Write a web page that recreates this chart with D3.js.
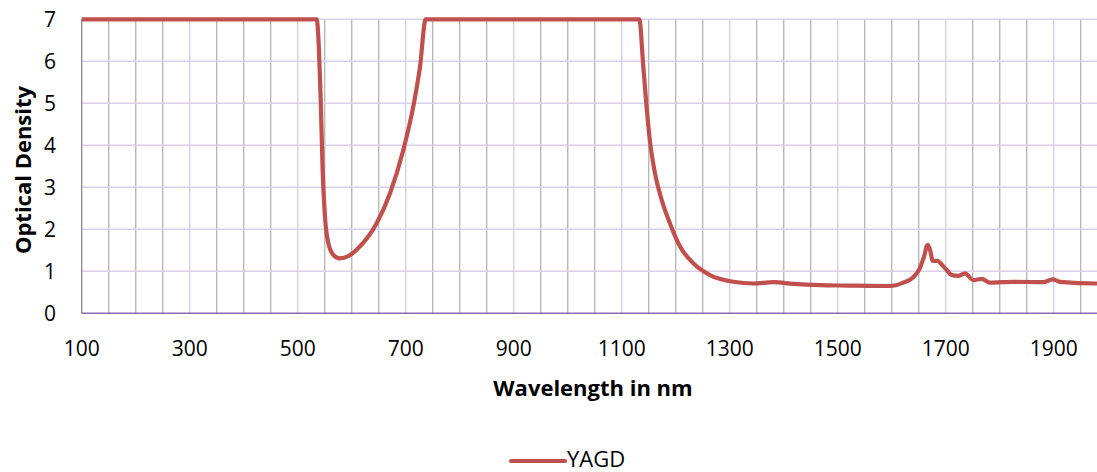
<!DOCTYPE html>
<html><head><meta charset="utf-8">
<script src="https://cdn.jsdelivr.net/npm/d3@7"></script>
<style>
html,body{margin:0;padding:0;background:#fff;overflow:hidden}
text{font-family:"Open Sans",sans-serif;fill:#000}
</style></head><body>
<svg id="c" width="1097" height="472"></svg>
<script>
const wavelengths = [100,535,542.6,546,550.5,556.7,566,578,593.7,615,646,671,695.6,714,726.5,737,
  1132.6,1140,1146,1152,1161.7,1174,1189.4,1208,1232.6,1263.5,1306.7,1343.7,1380.7,1417.8,1467,1519.6,
  1596.9,1621.5,1640,1652,1659.8,1666.6,1671,1676,1684.6,1690.7,1701.8,1711,1723,1735.7,1751,1766.7,1782,
  1825,1880.8,1898,1911.7,1979.6,2000];
const odValues = [7,7,5.08,3.49,2.3,1.67,1.39,1.31,1.36,1.59,2.14,2.86,3.89,4.92,5.87,7,
  7,5.87,4.92,4.13,3.33,2.70,2.14,1.59,1.19,0.91,0.75,0.71,0.74,0.70,0.67,0.66,
  0.65,0.73,0.86,1.07,1.35,1.63,1.51,1.25,1.25,1.19,1.03,0.91,0.89,0.95,0.79,0.82,0.73,
  0.75,0.74,0.81,0.75,0.71,0.71];
const xTickLabels = [100,300,500,700,900,1100,1300,1500,1700,1900];
const yTickLabels = [0,1,2,3,4,5,6,7];
const seriesName = "YAGD";

const svg = d3.select("#c");
const x = d3.scaleLinear().domain([100,2000]).range([81.7,81.7+1900*0.54]);
const y = d3.scaleLinear().domain([0,7]).range([313.3,19.3]);

// vertical gridlines every 50 nm
const vlines = d3.range(150,2001,50);
svg.append("g").selectAll("line").data(vlines).join("line")
  .attr("x1",d=>x(d)).attr("x2",d=>x(d)).attr("y1",y(7)).attr("y2",y(0))
  .attr("stroke",d=>((d-100)%200===0)?"#d9d0e6":"#b8b8b8").attr("stroke-width",1.4);
// horizontal gridlines
svg.append("g").selectAll("line").data(yTickLabels.filter(d=>d>0)).join("line")
  .attr("x1",x(100)).attr("x2",1097).attr("y1",d=>y(d)).attr("y2",d=>y(d))
  .attr("stroke","#d9d0e6").attr("stroke-width",1.4);
// axes lines
svg.append("line").attr("x1",x(100)).attr("x2",x(100)).attr("y1",y(7)).attr("y2",y(0))
  .attr("stroke","#8c8c8c").attr("stroke-width",1.3);
svg.append("line").attr("x1",x(100)).attr("x2",1097).attr("y1",y(0)).attr("y2",y(0))
  .attr("stroke","#8a6fb0").attr("stroke-width",1.6);

// tick labels
svg.append("g").selectAll("text").data(xTickLabels).join("text")
  .attr("x",d=>x(d)).attr("y",356).attr("text-anchor","middle")
  .style("font-size","21px").text(d=>d);
svg.append("g").selectAll("text").data(yTickLabels).join("text")
  .attr("x",56).attr("y",d=>y(d)+7.5).attr("text-anchor","end")
  .style("font-size","21px").text(d=>d);

// titles
svg.append("text").attr("x",593).attr("y",396).attr("text-anchor","middle")
  .style("font-size","22px").style("font-weight","bold").text("Wavelength in nm");
svg.append("text").attr("transform","translate(31,170) rotate(-90)").attr("text-anchor","middle")
  .style("font-size","22px").style("font-weight","bold").text("Optical Density");

// line
const pts = wavelengths.map((w,i)=>[w,odValues[i]]);
svg.append("path").datum(pts)
  .attr("d",d3.line().x(d=>x(d[0])).y(d=>y(d[1])).curve(d3.curveMonotoneX))
  .attr("fill","none").attr("stroke","#c0504d").attr("stroke-width",4.2).attr("stroke-linejoin","round");

// legend
svg.append("line").attr("x1",511).attr("x2",565).attr("y1",461).attr("y2",461)
  .attr("stroke","#c0504d").attr("stroke-width",4.2).attr("stroke-linecap","round");
svg.append("text").attr("x",567).attr("y",467).style("font-size","22px").text(seriesName);
</script></body></html>
